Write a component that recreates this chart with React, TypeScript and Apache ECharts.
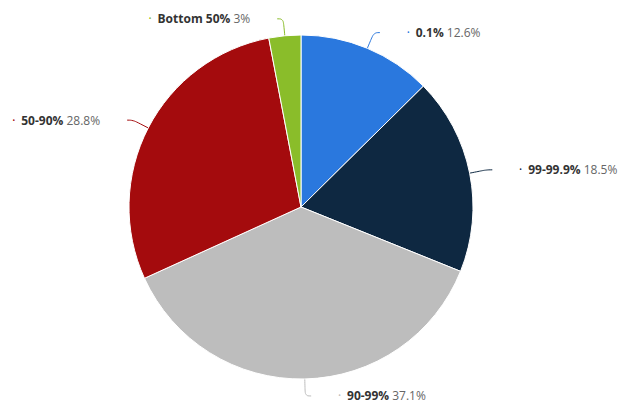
import React, { useEffect, useRef } from "react";
import * as echarts from "echarts";

const categories = ["0.1%", "99-99.9%", "90-99%", "50-90%", "Bottom 50%"];
const values = [12.6, 18.5, 37.1, 28.8, 3];
const colors = ["#2a78de", "#0e2841", "#bdbdbd", "#a40b0d", "#8abd2a"];
const rightSide = [true, true, true, false, false];

export default function App() {
  const ref = useRef<HTMLDivElement>(null);
  useEffect(() => {
    if (!ref.current) return;
    const chart = echarts.init(ref.current, null, { renderer: "svg" });
    chart.setOption({
      animation: false,
      backgroundColor: "#ffffff",
      series: [
        {
          type: "pie",
          center: [301, 207],
          radius: [0, 172],
          startAngle: 90,
          clockwise: true,
          avoidLabelOverlap: false,
          itemStyle: { borderColor: "#ffffff", borderWidth: 1 },
          label: {
            show: true,
            position: "outside",
            fontFamily: "Open Sans",
            fontSize: 12,
            color: "#666",
            formatter: (p: any) => `{dot|•}  {name|${p.name}} {val|${p.value}%}`,
            rich: {
              dot: { fontSize: 7, fontFamily: "Open Sans" },
              name: { fontWeight: "bold", color: "#333", fontSize: 12, fontFamily: "Open Sans" },
              val: { color: "#666", fontSize: 12, fontFamily: "Open Sans" },
            },
          },
          labelLine: { show: true, length: 17, length2: 6, smooth: 0.4, lineStyle: { width: 1 } },
          data: categories.map((c, i) => ({
            name: c,
            value: values[i],
            itemStyle: { color: colors[i] },
            label: {
              padding: rightSide[i] ? [0, 0, 0, 22] : [0, 22, 0, 0],
              rich: {
                dot: { color: colors[i], fontSize: 7 },
              },
            },
          })),
        },
      ],
    });
    return () => chart.dispose();
  }, []);
  return (
    <div
      ref={ref}
      style={{ position: "absolute", left: 0, top: 0, width: 623, height: 405 }}
    />
  );
}
